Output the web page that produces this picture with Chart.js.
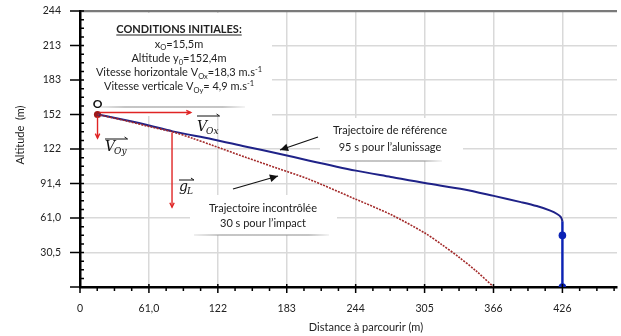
<!DOCTYPE html>
<html>
<head>
<meta charset="utf-8">
<script src="https://cdn.jsdelivr.net/npm/chart.js@4.4.1/dist/chart.umd.min.js"></script>
<style>
  html, body { margin: 0; padding: 0; background: #fff; }
  #wrap { width: 621px; height: 336px; }
</style>
</head>
<body>
<div id="wrap"><canvas id="chart"></canvas></div>
<script>
// tick values (100 ft / 200 ft steps in metres) and their printed labels
const yTickVals = [0, 30.48, 60.96, 91.44, 121.92, 152.4, 182.88, 213.36, 243.84];
const yTickLabels = ['', '30,5', '61,0', '91,4', '122', '152', '183', '213', '244'];
const xTickVals = [0, 60.96, 121.92, 182.88, 243.84, 304.8, 365.76, 426.72];
const xTickLabels = ['0', '61,0', '122', '183', '244', '305', '366', '426'];

// reference trajectory (blue)
const refX = [15.5, 30, 45, 58.5, 82, 117, 146, 176, 202, 244, 275, 305, 340, 366, 390, 404, 416, 422, 425.5, 426.7];
const refY = [152.4, 149.6, 146.4, 143.3, 137.5, 130.6, 124.2, 117.8, 111.8, 102.8, 97.2, 91.8, 86.2, 80.5, 75, 71.5, 67.5, 64.5, 61.5, 58];
// final vertical descent
const landX = [426.7, 426.7, 426.7];
const landY = [58, 45.6, 0];
// uncontrolled trajectory (red dotted)
const crashX = [15.5, 40, 61, 82, 100, 117, 146, 176, 202, 244, 275, 305, 320, 335, 350, 366];
const crashY = [152.4, 147, 141.8, 137, 131.2, 125.2, 114.8, 104.4, 95.4, 77.5, 64, 47.7, 37.5, 26.5, 14.5, 0];
// starting point O
const startX = [15.5];
const startY = [152.4];

const initTitle = 'CONDITIONS INITIALES:';
const initLines = [
  [['x', ''], ['O', 'sub'], ['=15,5m', '']],
  [['Altitude y', ''], ['0', 'sub'], ['=152,4m', '']],
  [['Vitesse horizontale V', ''], ['Ox', 'sub'], ['=18,3 m.s', ''], ['-1', 'sup']],
  [['Vitesse verticale V', ''], ['Oy', 'sub'], ['= 4,9 m.s', ''], ['-1', 'sup']]
];
const refText = ['Trajectoire de référence', '95 s pour l\u2019alunissage'];
const crashText = ['Trajectoire incontrôlée', '30 s pour l\u2019impact'];

const FONT = 'Lato, "Liberation Sans", sans-serif';

function pts(xs, ys) {
  return xs.map((x, i) => ({ x: x, y: ys[i] }));
}

function arrow(ctx, x1, y1, x2, y2, color, w, head, filled) {
  const a = Math.atan2(y2 - y1, x2 - x1);
  ctx.strokeStyle = color;
  ctx.fillStyle = color;
  ctx.lineWidth = w;
  ctx.beginPath();
  ctx.moveTo(x1, y1);
  ctx.lineTo(x2, y2);
  ctx.stroke();
  ctx.beginPath();
  ctx.moveTo(x2 - head * Math.cos(a - 0.45), y2 - head * Math.sin(a - 0.45));
  ctx.lineTo(x2, y2);
  ctx.lineTo(x2 - head * Math.cos(a + 0.45), y2 - head * Math.sin(a + 0.45));
  if (filled) { ctx.closePath(); ctx.fill(); } else { ctx.stroke(); }
}

function richLine(ctx, parts, cx, y, size) {
  const fontOf = p => (p[1] ? (size * 0.68) : size) + 'px ' + FONT;
  const ws = parts.map(p => { ctx.font = fontOf(p); return ctx.measureText(p[0]).width; });
  let x = cx - ws.reduce((a, b) => a + b, 0) / 2;
  ctx.textAlign = 'left';
  ctx.textBaseline = 'alphabetic';
  parts.forEach((p, i) => {
    ctx.font = fontOf(p);
    const dy = p[1] === 'sub' ? size * 0.25 : p[1] === 'sup' ? -size * 0.4 : 0;
    ctx.fillText(p[0], x, y + dy);
    x += ws[i];
  });
}

function vecLabel(ctx, main, sub, x, base, ov) {
  ctx.fillStyle = '#111';
  ctx.textAlign = 'left';
  ctx.textBaseline = 'alphabetic';
  ctx.font = 'italic 14px "DejaVu Serif", serif';
  const w1 = ctx.measureText(main).width;
  ctx.fillText(main, x, base);
  ctx.font = 'italic 9px "DejaVu Serif", serif';
  const w2 = ctx.measureText(sub).width;
  ctx.fillText(sub, x + w1 - 1, base + 3);
  const end = x + w1 + w2;
  ctx.strokeStyle = '#111';
  ctx.lineWidth = 1;
  ctx.beginPath();
  ctx.moveTo(x, ov);
  ctx.lineTo(end, ov);
  ctx.moveTo(end - 3, ov - 2);
  ctx.lineTo(end, ov);
  ctx.stroke();
}

// white label boxes: [x, y, w, h, shadowX, shadowY, shadowW]
const boxes = [
  [84, 13, 188, 103, 95, 106, 150],
  [320, 118, 143, 43, 322, 160, 120],
  [190, 195, 147, 40, 194, 234, 135]
];

const deco = {
  id: 'deco',
  beforeDatasetsDraw(chart) {
    const ctx = chart.ctx;
    ctx.save();
    boxes.forEach(b => {
      ctx.fillStyle = '#fff';
      ctx.fillRect(b[0], b[1], b[2], b[3]);
      const g = ctx.createLinearGradient(b[4], 0, b[4] + b[6], 0);
      g.addColorStop(0, 'rgba(150,150,150,0.15)');
      g.addColorStop(0.2, 'rgba(150,150,150,0.55)');
      g.addColorStop(0.85, 'rgba(150,150,150,0.55)');
      g.addColorStop(1, 'rgba(150,150,150,0.1)');
      ctx.fillStyle = g;
      ctx.fillRect(b[4], b[5], b[6], 2);
    });
    ctx.restore();
  },
  afterDatasetsDraw(chart) {
    const ctx = chart.ctx;
    const xs = chart.scales.x, ys = chart.scales.y;
    const ox = xs.getPixelForValue(startX[0]);
    const oy = ys.getPixelForValue(startY[0]);
    ctx.save();

    // initial conditions
    ctx.fillStyle = '#222';
    ctx.font = 'bold 11px ' + FONT;
    ctx.textAlign = 'center';
    ctx.textBaseline = 'alphabetic';
    ctx.fillText(initTitle, 179, 33);
    const tw = ctx.measureText(initTitle).width;
    ctx.fillRect(179 - tw / 2, 34.5, tw, 1);
    initLines.forEach((l, i) => richLine(ctx, l, 179, 47.5 + i * 14.3, 11));

    // trajectory labels
    ctx.font = '11px ' + FONT;
    ctx.textAlign = 'center';
    ctx.fillStyle = '#222';
    ctx.fillText(refText[0], 390, 134);
    ctx.fillText(refText[1], 390, 151);
    ctx.fillText(crashText[0], 263, 212);
    ctx.fillText(crashText[1], 263, 227);

    // O
    ctx.font = 'bold 12px ' + FONT;
    ctx.fillStyle = '#111';
    ctx.fillText('O', ox, 108);

    // red vectors
    arrow(ctx, ox + 2, oy - 2, xs.getPixelForValue(98), oy - 2, '#e02424', 1.4, 5, false);
    arrow(ctx, ox, oy + 2, ox, ys.getPixelForValue(131.5), '#e02424', 1.4, 5, false);
    const gx = xs.getPixelForValue(81.4);
    arrow(ctx, gx, ys.getPixelForValue(136.5), gx, ys.getPixelForValue(70.5), '#e02424', 1.4, 5, false);

    vecLabel(ctx, 'V', 'Ox', 197, 131, 116);
    vecLabel(ctx, 'V', 'Oy', 105, 151, 139);
    vecLabel(ctx, 'g', 'L', 179, 191, 180);

    // black pointer arrows
    arrow(ctx, 318, 137, 280, 150, '#111', 1.2, 9, true);
    arrow(ctx, 233, 189, 278, 176, '#111', 1.2, 9, true);

    ctx.restore();
  },
  afterDraw(chart) {
    const ctx = chart.ctx;
    const xs = chart.scales.x, ys = chart.scales.y;
    const x0 = xs.getPixelForValue(0);
    const y0 = ys.getPixelForValue(0);
    ctx.save();
    ctx.strokeStyle = '#000';
    ctx.lineWidth = 1.5;
    ctx.beginPath();
    for (let k = 0; k <= 32; k++) {
      const py = ys.getPixelForValue(k * 7.62);
      if (k % 4 === 0) { ctx.moveTo(x0 - 10, py); ctx.lineTo(x0 + 4, py); }
      else { ctx.moveTo(x0, py); ctx.lineTo(x0 + 4, py); }
    }
    for (let k = 0; k * 15.24 <= 475; k++) {
      const px = xs.getPixelForValue(k * 15.24);
      if (k % 4 === 0) { ctx.moveTo(px, y0 - 3); ctx.lineTo(px, y0 + 6); }
      else { ctx.moveTo(px, y0); ctx.lineTo(px, y0 + 4); }
    }
    ctx.stroke();

    // axis titles
    ctx.fillStyle = '#222';
    ctx.font = '11px ' + FONT;
    ctx.textAlign = 'center';
    ctx.textBaseline = 'middle';
    ctx.fillText('Distance à parcourir (m)', 366, 327);
    ctx.translate(20, 135);
    ctx.rotate(-Math.PI / 2);
    ctx.fillText('Altitude  (m)', 0, 0);
    ctx.restore();
  }
};

new Chart('chart', {
  type: 'scatter',
  data: {
    datasets: [
      {
        label: 'Trajectoire incontrôlée',
        data: pts(crashX, crashY),
        showLine: true,
        borderColor: '#a32a2a',
        borderWidth: 1.6,
        borderDash: [2, 1.2],
        tension: 0.3,
        pointRadius: 0
      },
      {
        label: 'Trajectoire de référence',
        data: pts(refX, refY),
        showLine: true,
        borderColor: '#1f2288',
        borderWidth: 2,
        tension: 0.3,
        pointRadius: 0
      },
      {
        label: 'Alunissage',
        data: pts(landX, landY),
        showLine: true,
        borderColor: '#0b22b5',
        borderWidth: 2.4,
        pointRadius: [0, 3.8, 3.8],
        pointBackgroundColor: '#0b22b5',
        pointBorderWidth: 0
      },
      {
        label: 'O',
        data: pts(startX, startY),
        pointRadius: 3.6,
        pointBackgroundColor: '#a01818',
        pointBorderWidth: 0
      }
    ]
  },
  options: {
    responsive: true,
    maintainAspectRatio: false,
    animation: false,
    layout: { padding: { top: 11, left: 0, right: 0, bottom: 0 } },
    plugins: {
      legend: { display: false },
      tooltip: { enabled: false }
    },
    scales: {
      x: {
        type: 'linear',
        min: 0,
        max: 475,
        afterBuildTicks: s => { s.ticks = xTickVals.map(v => ({ value: v })); },
        afterFit: s => { s.height = 49; s.paddingLeft = 0; s.paddingRight = 0; },
        ticks: {
          callback: (v, i) => xTickLabels[i],
          font: { family: FONT, size: 10.5 },
          color: '#222',
          padding: 15,
          maxRotation: 0,
          autoSkip: false
        },
        grid: { color: '#d9d9d9', lineWidth: 1.5, drawTicks: false },
        border: { display: true, color: '#000', width: 2.5 }
      },
      y: {
        type: 'linear',
        min: 0,
        max: 243.84,
        afterBuildTicks: s => { s.ticks = yTickVals.map(v => ({ value: v })); },
        afterFit: s => { s.width = 80; s.paddingTop = 0; s.paddingBottom = 0; },
        ticks: {
          callback: (v, i) => yTickLabels[i],
          font: { family: FONT, size: 10.5 },
          color: '#222',
          padding: 19,
          autoSkip: false
        },
        grid: {
          color: c => (c.tick && c.tick.value > 240 ? '#7a7a7a' : '#d9d9d9'),
          lineWidth: c => (c.tick && c.tick.value > 240 ? 2.2 : 1.5),
          drawTicks: false
        },
        border: { display: true, color: '#000', width: 2.5 }
      }
    }
  },
  plugins: [deco]
});
</script>
</body>
</html>
